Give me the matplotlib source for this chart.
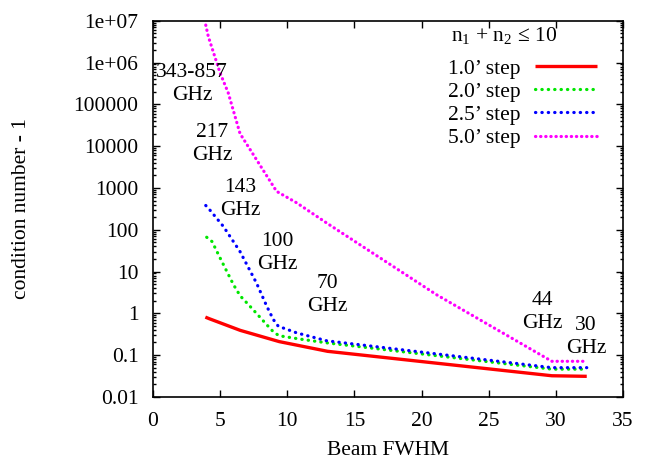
import numpy as np
import matplotlib
matplotlib.use("Agg")
import matplotlib.pyplot as plt
from matplotlib.ticker import LogLocator, NullFormatter

plt.rcParams["font.family"] = ["Liberation Serif", "DejaVu Serif"]
plt.rcParams["mathtext.fontset"] = "custom"
plt.rcParams["mathtext.rm"] = "Liberation Serif"
plt.rcParams["font.size"] = 15.5

# beam FWHM (arcmin) and condition number - 1, one list per step size
fwhm_10 = [3.9, 4.2, 6.5, 9.4, 13.0, 29.7, 32.3]
cond_10 = [0.81, 0.74, 0.39, 0.21, 0.123, 0.032, 0.031]

fwhm_20 = [4.0, 4.4, 5.0, 5.5, 6.0, 6.5, 7.2, 7.7, 8.5, 9.0, 9.4, 11.0, 13.0, 29.7, 32.3]
cond_20 = [66, 52, 21, 10, 4.8, 2.6, 1.5, 1.0, 0.52, 0.35, 0.29, 0.24, 0.195, 0.046, 0.046]

fwhm_25 = [3.93, 4.24, 5.24, 6.48, 7.72, 8.47, 8.96, 9.33, 10.7, 12.93, 29.7, 32.3]
cond_25 = [380, 295, 120, 30, 5.2, 1.48, 0.71, 0.49, 0.34, 0.22, 0.050, 0.050]

fwhm_50 = [3.93, 4.12, 5.0, 5.6, 6.48, 9.2, 10.7, 12.93, 21.1, 29.7, 32.3]
cond_50 = [7.9e6, 4.2e6, 5.6e5, 1.9e5, 2.0e4, 830, 440, 145, 2.8, 0.071, 0.071]

# frequency labels: text, x, y
freq_labels = ["343-857\nGHz", "217\nGHz", "143\nGHz", "100\nGHz", "70\nGHz", "44\nGHz", "30\nGHz"]
freq_x = [2.9, 4.39, 6.48, 9.23, 12.96, 28.97, 32.24]
freq_y = [3.1e5, 1.15e4, 540, 28, 2.7, 1.07, 0.275]

ytick_vals = [0.01, 0.1, 1, 10, 100, 1000, 10000, 100000, 1e6, 1e7]
ytick_text = ["0.01", "0.1", "1", "10", "100", "1000", "10000", "100000", "1e+06", "1e+07"]

fig = plt.figure(figsize=(6.51, 4.62), dpi=100)
ax = fig.add_axes([0.235, 0.141, 0.722, 0.814])

ax.plot(fwhm_10, cond_10, color="#ff0000", lw=2.4, solid_capstyle="butt", label="1.0\u2019 step")
ax.plot(fwhm_20, cond_20, color="#00e600", lw=2.3, ls=(0, (0.1, 1.9)), dash_capstyle="round", label="2.0\u2019 step")
ax.plot(fwhm_25, cond_25, color="#0000ff", lw=2.3, ls=(0, (0.1, 1.9)), dash_capstyle="round", label="2.5\u2019 step")
ax.plot(fwhm_50, cond_50, color="#ff00ff", lw=2.3, ls=(0, (0.1, 1.5)), dash_capstyle="round", label="5.0\u2019 step")

for t, x, y in zip(freq_labels, freq_x, freq_y):
    ax.text(x, y, t, ha="center", va="center", linespacing=1.3)

ax.set_yscale("log")
ax.set_xlim(0, 35)
ax.set_ylim(0.01, 1e7)
ax.set_xticks(np.arange(0, 36, 5))
ax.set_yticks(ytick_vals)
ax.set_yticklabels(ytick_text)
ax.yaxis.set_minor_locator(LogLocator(base=10, subs=np.arange(2, 10), numticks=100))
ax.yaxis.set_minor_formatter(NullFormatter())

ax.tick_params(which="both", direction="in", top=True, right=True, width=1.0)
ax.tick_params(which="major", length=5)
ax.tick_params(which="minor", length=2.5)
ax.tick_params(axis="x", pad=10.7)
ax.tick_params(axis="y", pad=10.5)
for s in ax.spines.values():
    s.set_linewidth(1.2)

ax.set_xlabel("Beam FWHM", va="center")
ax.set_ylabel("condition number - 1", va="center")
ax.xaxis.set_label_coords(0.5, -0.143)
ax.yaxis.set_label_coords(-0.279, 0.5)

ax.text(0.747, 0.96, "n$_1$ + n$_2$ \u2264 10", transform=ax.transAxes, ha="center", va="center")
ax.legend(loc="upper right", bbox_to_anchor=(0.945, 0.899), frameon=False, markerfirst=False,
          handlelength=2.9, handletextpad=0.64, labelspacing=0.14, borderpad=0, borderaxespad=0)

fig.savefig("out.png", dpi=100)
